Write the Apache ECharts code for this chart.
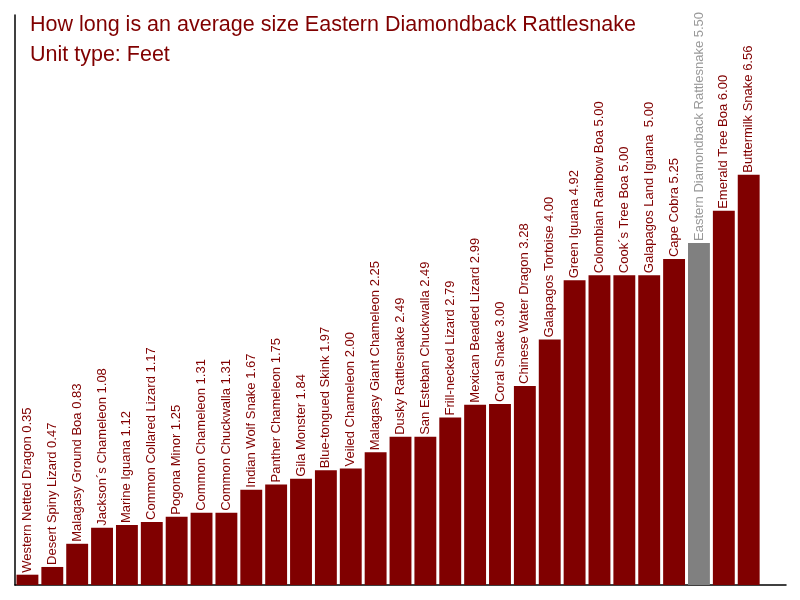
<!DOCTYPE html>
<html>
<head>
<meta charset="utf-8">
<script src="https://cdn.jsdelivr.net/npm/echarts@6/dist/echarts.min.js"></script>
<style>
  html, body { margin: 0; padding: 0; background: #fff; }
  #main { width: 800px; height: 600px; }
</style>
</head>
<body>
<div id="main"></div>
<script>
// 爬行动物平均体长（英尺）
var names = [
    'Western Netted Dragon', 'Desert Spiny Lizard', 'Malagasy Ground Boa',
    'Jackson´s Chameleon', 'Marine Iguana', 'Common Collared Lizard',
    'Pogona Minor', 'Common Chameleon', 'Common Chuckwalla',
    'Indian Wolf Snake', 'Panther Chameleon', 'Gila Monster',
    'Blue-tongued Skink', 'Veiled Chameleon', 'Malagasy Giant Chameleon',
    'Dusky Rattlesnake', 'San Esteban Chuckwalla', 'Frill-necked Lizard',
    'Mexican Beaded Lizard', 'Coral Snake', 'Chinese Water Dragon',
    'Galapagos Tortoise', 'Green Iguana', 'Colombian Rainbow Boa',
    'Cook´s Tree Boa', 'Galapagos Land Iguana ', 'Cape Cobra',
    'Eastern Diamondback Rattlesnake', 'Emerald Tree Boa', 'Buttermilk Snake'
]
var lengths = [
    0.35, 0.47, 0.83, 1.08, 1.12, 1.17, 1.25, 1.31, 1.31, 1.67,
    1.75, 1.84, 1.97, 2.00, 2.25, 2.49, 2.49, 2.79, 2.99, 3.00,
    3.28, 4.00, 4.92, 5.00, 5.00, 5.00, 5.25, 5.50, 6.00, 6.56
]
var highlight = 'Eastern Diamondback Rattlesnake'

var myChart = echarts.init(document.getElementById('main'))

const getChartData = () => {
    return lengths.map((v, i) => {
        const isHi = names[i] === highlight
        return {
            value: v,
            name: names[i],
            itemStyle: { color: isHi ? '#808080' : '#800000' },
            label: { color: isHi ? '#999999' : '#800000' }
        }
    })
}

myChart.setOption({
    animation: false,
    title: {
        text: 'How long is an average size Eastern Diamondback Rattlesnake',
        subtext: 'Unit type: Feet',
        left: 25,
        top: 9,
        itemGap: 8,
        textStyle: { fontFamily: 'Liberation Sans', fontSize: 21.5, fontWeight: 'normal', color: '#800000' },
        subtextStyle: { fontFamily: 'Liberation Sans', fontSize: 21.5, color: '#800000' }
    },
    grid: {
        left: 15,
        right: 14,
        top: 15,
        bottom: 15
    },
    xAxis: {
        type: 'category',
        data: names,
        max: names.length,       // 右侧留出一格空白
        axisLine: { lineStyle: { color: '#000', width: 1.5 } },
        axisTick: { show: false },
        axisLabel: { show: false }
    },
    yAxis: {
        type: 'value',
        min: 0.19,
        max: 9.04,
        axisLine: { show: true, lineStyle: { color: '#000', width: 1.5 } },
        axisTick: { show: false },
        axisLabel: { show: false },
        splitLine: { show: false }
    },
    series: [{
        type: 'bar',
        barCategoryGap: '12%',
        clip: true,
        data: getChartData(),
        label: {
            show: true,
            position: 'top',
            rotate: 90,
            align: 'left',
            verticalAlign: 'middle',
            distance: 2,
            fontFamily: 'Liberation Sans',
            fontSize: 13,
            formatter: p => p.name + ' ' + p.value.toFixed(2)
        }
    }]
})
</script>
</body>
</html>
